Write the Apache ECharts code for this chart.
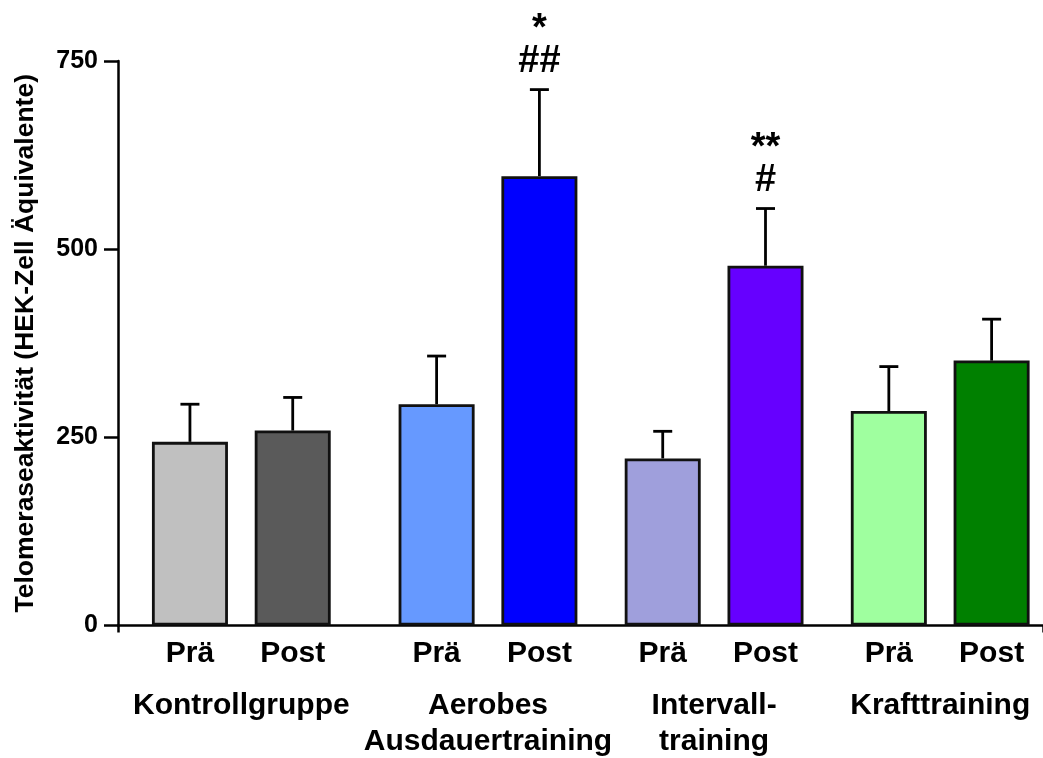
<!DOCTYPE html>
<html>
<head>
<meta charset="utf-8">
<script src="https://cdn.jsdelivr.net/npm/echarts@6/dist/echarts.min.js"></script>
<style>
  html, body { margin: 0; padding: 0; background: #ffffff; }
  #chart { width: 1043px; height: 758px; }
</style>
</head>
<body>
<div id="chart"></div>
<script>
// Slot layout of the category axis: bars sit on these slots, the rest stay empty
const slotCount = 45;
const barSlots = [3, 8, 15, 20, 26, 31, 37, 42];

// Measurement labels, means and upper error limits (mean + SD)
const phaseLabels = ['Prä', 'Post', 'Prä', 'Post', 'Prä', 'Post', 'Prä', 'Post'];
const meanValues = [244, 259, 294, 597, 222, 478, 285, 352];
const upperValues = [294, 303, 358, 712, 258, 554, 344, 407];
const barColors = ['#c0c0c0', '#5a5a5a', '#6699ff', '#0000ff', '#9f9fdc', '#6600ff', '#9fff9f', '#008000'];
const significance = ['', '', '', '*\n##', '', '**\n#', '', ''];

// Training groups: each spans a Prä/Post pair of bars
const groupNames = ['Kontrollgruppe', 'Aerobes\nAusdauertraining', 'Intervall-\ntraining', 'Krafttraining'];
const groupBars = [[0, 1], [2, 3], [4, 5], [6, 7]];

const yTicks = [0, 250, 500, 750];
const yTitle = 'Telomeraseaktivität (HEK-Zell Äquivalente)';

const FONT = '"Liberation Sans", Arial, Helvetica, sans-serif';

const slotLabels = new Array(slotCount).fill('');
barSlots.forEach((s, i) => { slotLabels[s] = phaseLabels[i]; });

const barData = new Array(slotCount).fill('-');
barSlots.forEach((s, i) => {
  barData[s] = { value: meanValues[i], itemStyle: { color: barColors[i] } };
});

const errorData = barSlots.map((s, i) => [s, meanValues[i], upperValues[i]]);
const groupData = groupBars.map(([a, b]) => [barSlots[a], barSlots[b], 0]);

const chart = echarts.init(document.getElementById('chart'), null, { renderer: 'canvas' });

chart.setOption({
  animation: false,
  backgroundColor: '#ffffff',
  grid: { left: 118, right: 0, top: 61, bottom: 132.5, containLabel: false },
  xAxis: {
    type: 'category',
    data: slotLabels,
    boundaryGap: true,
    axisLine: { show: true, lineStyle: { color: '#000', width: 2.5 } },
    axisTick: {
      show: true,
      interval: (index) => index === 0,
      length: 7,
      lineStyle: { color: '#000', width: 2.5 }
    },
    axisLabel: {
      interval: 0,
      margin: 13,
      color: '#000',
      fontFamily: FONT,
      fontWeight: 'bold',
      fontSize: 30
    },
    splitLine: { show: false }
  },
  yAxis: {
    type: 'value',
    min: yTicks[0],
    max: yTicks[yTicks.length - 1],
    interval: yTicks[1] - yTicks[0],
    name: yTitle,
    nameLocation: 'middle',
    nameGap: 79,
    nameRotate: 90,
    nameTextStyle: { color: '#000', fontFamily: FONT, fontWeight: 'bold', fontSize: 26.5 },
    axisLine: { show: true, lineStyle: { color: '#000', width: 2.5 } },
    axisTick: { show: true, length: 14, lineStyle: { color: '#000', width: 2.5 } },
    axisLabel: { margin: 20, color: '#000', fontFamily: FONT, fontWeight: 'bold', fontSize: 25 },
    splitLine: { show: false }
  },
  series: [
    {
      type: 'bar',
      data: barData,
      barWidth: 76,
      itemStyle: { borderColor: '#111', borderWidth: 2.8 },
      z: 2
    },
    {
      // upper SD whiskers with significance marks above them
      type: 'custom',
      data: errorData,
      encode: { x: 0, y: [1, 2] },
      z: 3,
      clip: false,
      renderItem(params, api) {
        const x = api.value(0);
        const base = api.coord([x, api.value(1)]);
        const top = api.coord([x, api.value(2)]);
        const half = 9.5;
        const style = { stroke: '#000', lineWidth: 2.8 };
        const children = [
          { type: 'line', shape: { x1: base[0], y1: base[1], x2: top[0], y2: top[1] }, style },
          { type: 'line', shape: { x1: top[0] - half, y1: top[1], x2: top[0] + half, y2: top[1] }, style }
        ];
        const mark = significance[params.dataIndex];
        if (mark) {
          children.push({
            type: 'text',
            style: {
              x: top[0],
              y: top[1] - 12,
              text: mark,
              fill: '#000',
              font: 'bold 38px ' + FONT,
              lineHeight: 32,
              align: 'center',
              verticalAlign: 'bottom'
            }
          });
        }
        return { type: 'group', children };
      }
    },
    {
      // group names centred under each Prä/Post pair
      type: 'custom',
      data: groupData,
      encode: { x: [0, 1], y: 2 },
      z: 3,
      clip: false,
      silent: true,
      renderItem(params, api) {
        const a = api.coord([api.value(0), 0]);
        const b = api.coord([api.value(1), 0]);
        return {
          type: 'text',
          style: {
            x: (a[0] + b[0]) / 2,
            y: a[1] + 62,
            text: groupNames[params.dataIndex],
            fill: '#000',
            font: 'bold 30px ' + FONT,
            lineHeight: 36,
            align: 'center',
            verticalAlign: 'top'
          }
        };
      }
    }
  ]
});
</script>
</body>
</html>
